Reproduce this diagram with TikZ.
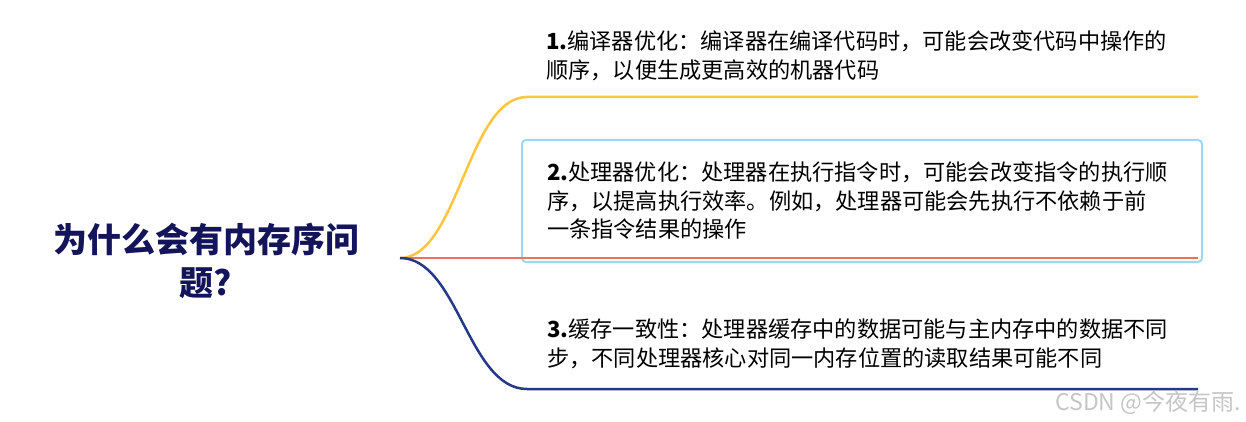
\documentclass[tikz,border=0pt]{standalone}
\usepackage{fontspec}
\setmainfont{Noto Sans CJK SC}
\definecolor{rootc}{HTML}{14145A}
\definecolor{orangec}{HTML}{FFC541}
\definecolor{redc}{HTML}{E8735F}
\definecolor{navyc}{HTML}{24398A}
\definecolor{boxc}{HTML}{9AD8F8}
\definecolor{wmc}{HTML}{C6C6C6}
\begin{document}
\begin{tikzpicture}[x=1pt,y=-1pt,
  branch/.style={line width=2.5pt},
  leaf/.style={inner sep=0pt, anchor=west, align=left, font=\fontsize{22.2}{28.5}\selectfont, text=black},
  rootnode/.style={inner sep=0pt, align=center, font=\fontsize{34}{43}\selectfont\bfseries, text=rootc}]
\useasboundingbox (0,0) rectangle (1246,422);
\fill[white] (0,0) rectangle (1246,422);
\node[rootnode] (root) at (206,261) {为什么会有内存序问\\题?};
\coordinate (hub) at (400,258);
\coordinate (e1) at (1198,97);
\coordinate (e2) at (1198,258);
\coordinate (e3) at (1198,389);
\node[leaf] (t1) at (546,56) {\textbf{1.}编译器优化：编译器在编译代码时，可能会改变代码中操作的\\顺序，以便生成更高效的机器代码};
\node[draw=boxc, line width=2pt, rounded corners=4pt, minimum width=680pt, minimum height=122pt,
      inner xsep=25pt, text width=630pt, align=left, font=\fontsize{22.2}{28.5}\selectfont]
      (t2) at (862,201) {\textbf{2.}处理器优化：处理器在执行指令时，可能会改变指令的执行顺\\序，以提高执行效率。例如，处理器可能会先执行不依赖于前\\一条指令结果的操作};
\node[leaf] (t3) at (547,344) {\textbf{3.}缓存一致性：处理器缓存中的数据可能与主内存中的数据不同\\步，不同处理器核心对同一内存位置的读取结果可能不同};
\draw[branch, orangec] (hub) .. controls (458,258) and (468,97) .. (527,97) -- (e1);
\draw[branch, redc] (hub) -- (e2);
\draw[branch, navyc] (hub) .. controls (458,258) and (468,389) .. (527,389) -- (e3);
\node[inner sep=0pt, anchor=east, text=wmc, font=\fontsize{23}{26}\selectfont] (wm) at (1241,403) {CSDN @今夜有雨.};
\end{tikzpicture}
\end{document}
